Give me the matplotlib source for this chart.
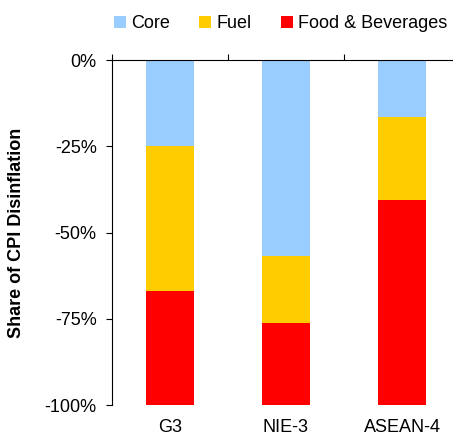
import numpy as np
import matplotlib.pyplot as plt
from matplotlib.patches import Patch

plt.rcParams['font.family'] = ['Liberation Sans', 'DejaVu Sans']

regions = ['G3', 'NIE-3', 'ASEAN-4']
core = [24.8, 56.7, 16.5]
fuel = [42.2, 19.5, 24.1]
food = [33.0, 23.8, 59.4]
series_names = ['Core', 'Fuel', 'Food & Beverages']
colors = ['#99CCFF', '#FFCC00', '#FF0000']
ytick_vals = [0, -25, -50, -75, -100]

fig = plt.figure(figsize=(4.53, 4.36), dpi=100)
ax = fig.add_axes([112/453, 1 - 405/436, 348/453, 345/436])

x = np.arange(1, len(regions) + 1)
bottom = np.zeros(len(regions))
for vals, c in zip([core, fuel, food], colors):
    v = -np.array(vals)
    ax.bar(x, v, width=0.41, bottom=bottom, color=c, edgecolor='none')
    bottom += v

ax.set_xlim(0.5, 3.5)
ax.set_ylim(-100, 0)
ax.set_yticks(ytick_vals)
ax.set_yticklabels([f'{v}%' for v in ytick_vals])

# category names sit below the bars, boundary ticks sit on the 0% line
ax.set_xticks(x)
ax.set_xticklabels(regions)
ax.set_xticks(np.arange(0.5, 4.0, 1.0), minor=True)
ax.tick_params(axis='x', which='major', length=0, pad=10, labelsize=13)
ax.tick_params(axis='x', which='minor', top=True, bottom=False,
               direction='out', length=4, width=0.8)
ax.tick_params(axis='y', direction='out', length=4, width=0.8, pad=7,
               labelsize=13)

ax.spines['right'].set_visible(False)
ax.spines['bottom'].set_visible(False)
ax.spines['top'].set_linewidth(0.8)
ax.spines['left'].set_linewidth(0.8)

ax.set_ylabel('Share of CPI Disinflation', fontsize=13, fontweight='bold',
              labelpad=14)

handles = [Patch(facecolor=c, edgecolor='none') for c in colors]
fig.legend(handles, series_names, loc='center', bbox_to_anchor=(0.62, 0.945),
           ncol=3, frameon=False, fontsize=13, handlelength=0.67,
           handleheight=0.67, handletextpad=0.3, columnspacing=1.6,
           borderpad=0)

fig.savefig('out.png', dpi=100)
